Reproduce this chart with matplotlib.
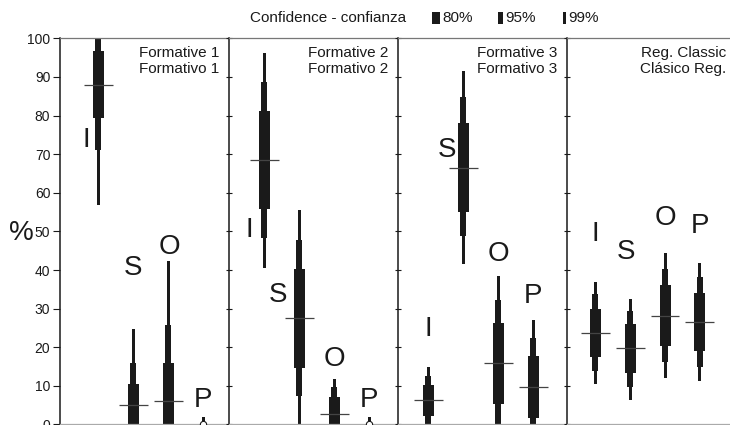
import matplotlib
matplotlib.use("Agg")
import matplotlib.pyplot as plt
from matplotlib.patches import Rectangle

plt.rcParams['font.family'] = ['Liberation Sans', 'DejaVu Sans']

# ---------------- data ----------------
categories = ['I', 'S', 'O', 'P']
panel_titles = [('Formative 1', 'Formativo 1'),
                ('Formative 2', 'Formativo 2'),
                ('Formative 3', 'Formativo 3'),
                ('Reg. Classic', 'Clásico Reg.')]

medians = [
    [88.0, 5.0, 6.0, 0.0],
    [68.5, 27.5, 2.7, 0.0],
    [6.2, 66.4, 15.9, 9.7],
    [23.7, 19.7, 28.2, 26.6],
]
ci80 = [
    [(79.3, 96.7), (0, 10.5), (0, 15.9), (0, 0)],
    [(55.8, 81.1), (14.6, 40.2), (0, 7.2), (0, 0)],
    [(2.1, 10.1), (54.9, 78.0), (5.4, 26.3), (1.6, 17.7)],
    [(17.4, 30.0), (13.2, 25.9), (20.3, 36.0), (19.1, 34.1)],
]
ci95 = [
    [(71.1, 100), (0, 15.8), (0, 25.7), (0, 0)],
    [(48.4, 88.7), (7.3, 47.8), (0, 9.8), (0, 0)],
    [(0, 12.5), (48.7, 84.8), (0, 32.2), (0, 22.3)],
    [(13.8, 33.7), (9.7, 29.5), (16.1, 40.2), (14.9, 38.2)],
]
ci99 = [
    [(56.9, 100), (0, 24.8), (0, 42.3), (0, 2.0)],
    [(40.6, 96.3), (0, 55.6), (0, 11.8), (0, 2.0)],
    [(0, 14.9), (41.5, 91.5), (0, 38.4), (0, 27.0)],
    [(10.5, 36.9), (6.4, 32.6), (12.0, 44.3), (11.2, 41.9)],
]
# letter label baselines (data units) and horizontal offsets (px)
label_y = [
    [71.9, 38.7, 44.1, 4.6],
    [48.6, 31.8, 15.2, 4.6],
    [22.9, 69.4, 42.4, 31.4],
    [47.6, 42.9, 51.7, 49.7],
]
label_dx = [
    [-12, 0, 1, 0],
    [-15, -21, 0, 0],
    [0, -16, 0, 0],
    [0, -4, 0, 0],
]
yticks = list(range(0, 101, 10))

# ---------------- layout ----------------
W, H = 730, 425
fig = plt.figure(figsize=(W / 100, H / 100), dpi=100)
panel_left_px = [60, 229, 398, 567]
panel_w_px = 169
first_bar_px = [38, 35, 30, 28]
spacing_px = 35.0
y0_px, y100_px = 424.4, 38.4

dark = '#1a1a1a'
w80, w95, w99 = 11 / spacing_px, 6.5 / spacing_px, 3 / spacing_px
med_half = 14.5 / spacing_px

axes = []
for p in range(4):
    ax = fig.add_axes([panel_left_px[p] / W, (H - y0_px) / H,
                       panel_w_px / W, (y0_px - y100_px) / H])
    axes.append(ax)
    left = 1 - first_bar_px[p] / spacing_px
    ax.set_xlim(left, left + panel_w_px / spacing_px)
    ax.set_ylim(0, 100)
    pos = [1, 2, 3, 4]
    for i, x in enumerate(pos):
        lo, hi = ci99[p][i]
        if hi > lo:
            ax.bar(x, hi - lo, bottom=lo, width=w99, color=dark, lw=0)
        lo, hi = ci95[p][i]
        if hi > lo:
            ax.bar(x, hi - lo, bottom=lo, width=w95, color=dark, lw=0)
        lo, hi = ci80[p][i]
        if hi > lo:
            ax.bar(x, hi - lo, bottom=lo, width=w80, color=dark, lw=0)
        m = medians[p][i]
        if m > 0:
            ax.hlines(m, x - med_half, x + med_half, color='#444444', lw=0.9, zorder=3)
        else:
            ax.plot([x], [m], marker='o', ms=4.5, mfc='white', mec=dark, mew=0.8, zorder=4)
        ax.text(x + label_dx[p][i] / spacing_px, label_y[p][i], categories[i],
                fontsize=20, ha='center', va='baseline', color=dark)

    t1, t2 = panel_titles[p]
    tx = 1 - 10 / panel_w_px
    ax.text(tx, 95.2, t1, transform=ax.get_yaxis_transform(), ha='right',
            va='baseline', fontsize=11, color=dark)
    ax.text(tx, 91.0, t2, transform=ax.get_yaxis_transform(), ha='right',
            va='baseline', fontsize=11, color=dark)

    ax.set_xticks([])
    ax.set_yticks(yticks)
    ax.spines['right'].set_visible(False)
    ax.spines['top'].set_color('#777777')
    ax.spines['top'].set_linewidth(0.9)
    ax.spines['bottom'].set_color('#aaaaaa')
    ax.spines['bottom'].set_linewidth(0.9)
    ax.spines['left'].set_color(dark)
    ax.spines['left'].set_linewidth(1.1)
    if p == 0:
        ax.tick_params(axis='y', direction='out', length=5, width=0.8,
                       color=dark, labelsize=10, labelcolor=dark, pad=2)
    else:
        ax.tick_params(axis='y', direction='inout', length=5, width=0.8,
                       color=dark, labelleft=False)
    ax.set_facecolor('none')

# percent sign
fig.text(21 / W, (H - 233) / H, '%', fontsize=20, ha='center', va='center', color=dark)

# legend
ly = (H - 18) / H
fig.text(250 / W, ly, 'Confidence - confianza', fontsize=11, ha='left', va='center', color=dark)
for (x0, w, lab) in [(432, 8, '80%'), (498, 5, '95%'), (563, 3, '99%')]:
    fig.patches.append(Rectangle((x0 / W, (H - 24) / H), w / W, 12 / H,
                                 transform=fig.transFigure, color=dark, lw=0))
    fig.text((x0 + w + 2) / W, ly, lab, fontsize=11, ha='left', va='center', color=dark)

fig.savefig('out.png', dpi=100)
